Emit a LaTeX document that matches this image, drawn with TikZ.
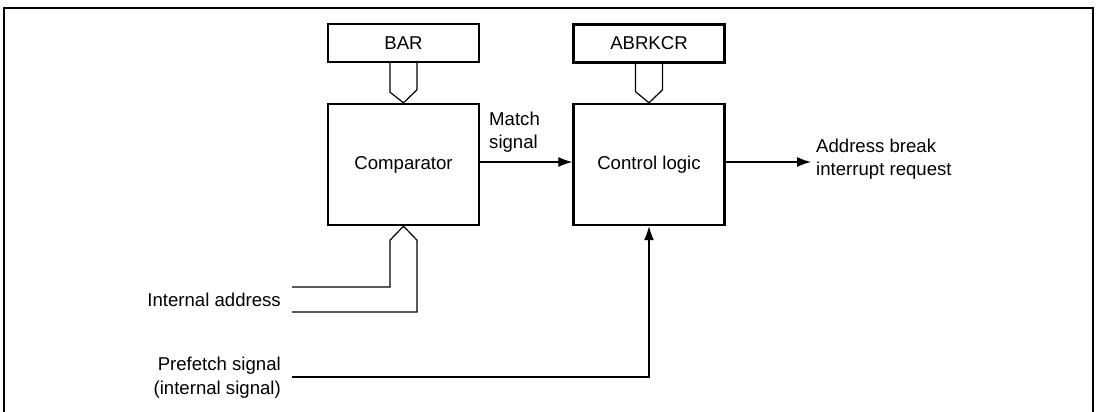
\documentclass[tikz,border=0pt]{standalone}
\usepackage{fontspec}
\setmainfont{Liberation Sans}
\usetikzlibrary{arrows.meta}
\begin{document}
\begin{tikzpicture}[
    x=1pt, y=-1pt,
    box/.style={rectangle, draw, line width=2.4pt, align=center, inner sep=0pt},
    regbox/.style={box, minimum width=151pt, minimum height=38pt},
    logicbox/.style={box, minimum width=151pt, minimum height=121pt},
    lbl/.style={align=left, inner sep=0pt},
    arrow/.style={-{Latex[length=14pt,width=10pt]}, line width=1.2pt},
    bus/.style={line width=1.2pt, line join=miter},
    frame/.style={line width=2.2pt}
]
    \useasboundingbox (0,0) rectangle (1100,412);
    \fontsize{18.6}{23.5}\selectfont

    % outer frame
    \draw[frame] (4,420) |- (1093,8) -- (1093,420);

    % registers
    \node[regbox] (bar) at (403.5,43) {BAR};
    \node[regbox] (abrkcr) at (649,43.5) {ABRKCR};

    % main blocks
    \node[logicbox] (comp) at (403.5,164.5) {Comparator};
    \node[logicbox] (ctrl) at (649,164.5) {Control logic};

    % buses from registers
    \draw[bus] ([xshift=-13.5pt]bar.south) -- ++(0,29) -- (comp.north) -- ++(13.5,-13) -- ++(0,-29);
    \draw[bus] ([xshift=-13.5pt]abrkcr.south) -- ++(0,28) -- (ctrl.north) -- ++(13.5,-13) -- ++(0,-28);

    % internal address bus
    \coordinate (ia1) at (292,287);
    \coordinate (ia2) at (292,312);
    \node[lbl, anchor=east] (ialbl) at (281,299.5) {Internal address};
    \draw[bus] (ia1) -| ([shift={(-13.5pt,-14pt)}]comp.south) -- (comp.south)
        -- ([shift={(13.5pt,-14pt)}]comp.south) |- (ia2);

    % prefetch signal
    \coordinate (pf) at (292,377);
    \node[lbl, align=right, anchor=east] (pflbl) at (281,377.5) {Prefetch signal\\(internal signal)};
    \draw[arrow] (pf) -| (ctrl.south);

    % match signal and output
    \draw[arrow] (comp.east |- 0,162) -- (ctrl.west |- 0,162);
    \node[lbl, anchor=west] (matchlbl) at (489,132) {Match\\signal};
    \coordinate (out) at (811,162);
    \draw[arrow] (ctrl.east |- out) -- (out);
    \node[lbl, anchor=west] (outlbl) at (816,159) {Address break\\interrupt request};
\end{tikzpicture}
\end{document}
